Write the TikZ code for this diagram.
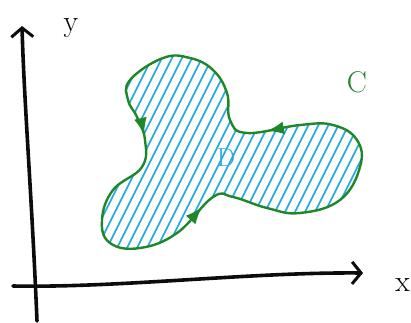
\documentclass[tikz,border=0pt]{standalone}
\usepackage{tikz}
\usetikzlibrary{arrows.meta,decorations.markings}
\definecolor{GtGreen}{RGB}{30,135,42}
\definecolor{GtBlue}{RGB}{38,168,225}
\definecolor{GtInk}{RGB}{12,12,12}
\tikzset{
  gt/axis/.style={
    draw=GtInk,
    line width=3.6pt,
    line cap=round,
    -{Straight Barb[length=9pt,width=22pt,line width=3pt]}
  },
  gt/curve/.style={
    draw=GtGreen,
    line width=2.4pt,
    postaction={decorate},
    decoration={markings,
      mark=at position 0.075 with {\arrow{Latex[length=17pt,width=13pt]}},
      mark=at position 0.37 with {\arrow{Latex[length=17pt,width=13pt]}},
      mark=at position 0.76 with {\arrow{Latex[length=17pt,width=13pt]}}
    }
  },
  gt/hatch/.style={draw=GtBlue, line width=1.6pt, line cap=round},
  gt/label/.style={font=\fontsize{30}{32}\selectfont, inner sep=0pt}
}

\begin{document}
\begin{tikzpicture}[x=1pt,y=-1pt]
  \useasboundingbox (0,0) rectangle (411,322);

  % axes
  \coordinate (O) at (37,286);
  \coordinate (xstart) at (13,286);
  \coordinate (xend) at (363,273);
  \coordinate (ystart) at (37,321);
  \coordinate (yend) at (22,26);
  \draw[gt/axis] (ystart) .. controls (32,200) and (24,100) .. (yend);
  \draw[gt/axis] (xstart) .. controls (120,288) and (250,272) .. (xend);
  \node[gt/label] (ylab) at (71,28) {y};
  \node[gt/label,anchor=east] (xlab) at (410,285) {x};

  % region D and its boundary C
  \def\blob{(163,58) (130,80) (128,100) (137,117) (145,140) (142,167)
    (113,190) (102,220) (110,243) (140,248) (177,233) (213,197) (233,197)
    (267,208) (300,213) (340,200) (360,167) (357,140) (333,125) (300,125)
    (247,133) (230,120) (227,93) (213,70) (190,58)}
  \begin{scope}
    \clip plot[smooth cycle,tension=0.7] coordinates {\blob};
    \foreach \k in {0,...,34}
      \draw[gt/hatch] ({10+10*\k},262) -- ({115+10*\k},52);
  \end{scope}
  \draw[gt/curve] plot[smooth cycle,tension=0.7] coordinates {\blob};

  \node[gt/label,text=GtBlue,font=\fontsize{26}{28}\selectfont] (dlab) at (226,158) {D};
  \node[gt/label,text=GtGreen] (clab) at (357,82) {C};
\end{tikzpicture}
\end{document}
